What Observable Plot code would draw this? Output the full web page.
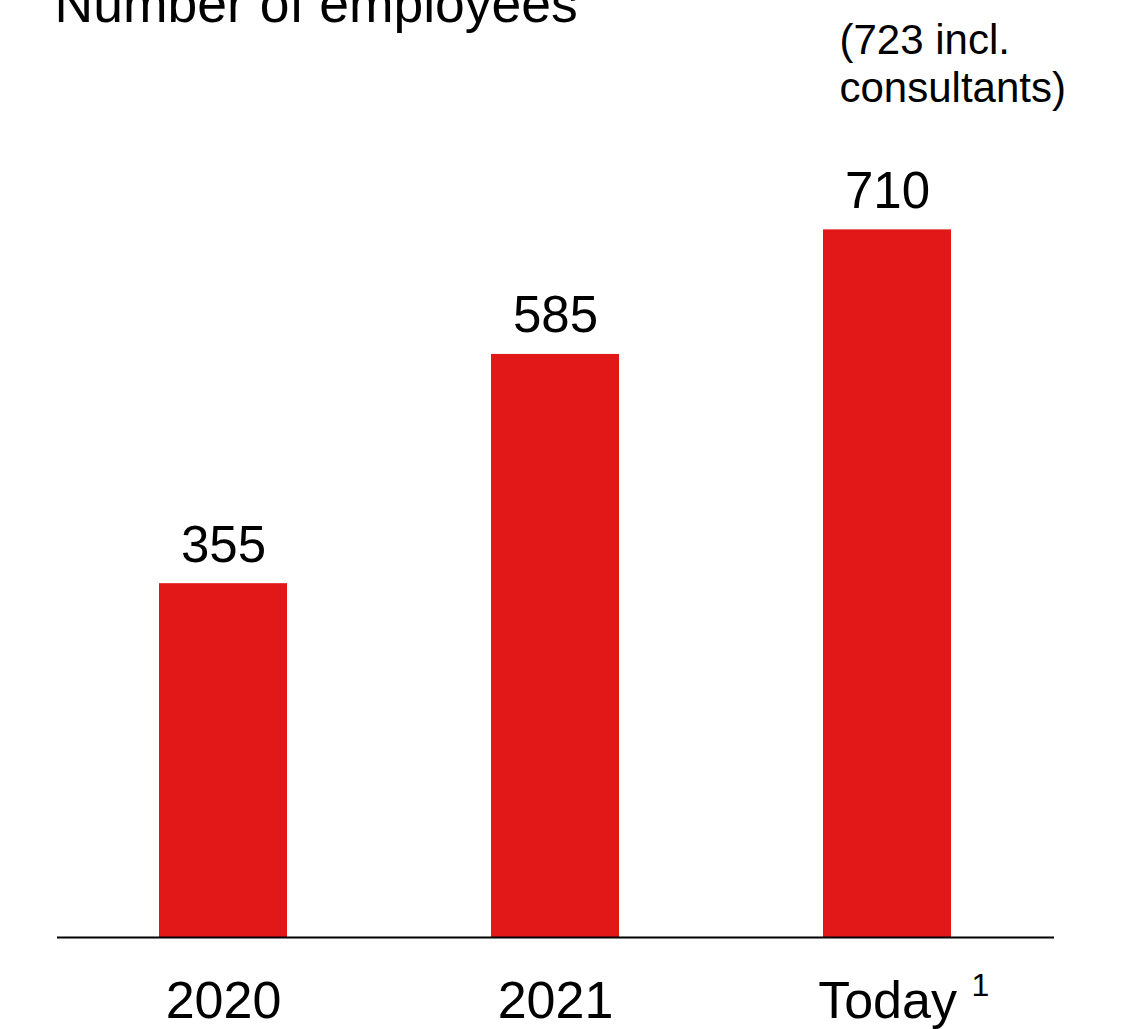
<!DOCTYPE html>
<html>
<head>
<meta charset="utf-8">
<script src="https://cdn.jsdelivr.net/npm/d3@7"></script>
<script src="https://cdn.jsdelivr.net/npm/@observablehq/plot@0.6"></script>
<style>
  html, body { margin: 0; padding: 0; background: #fff; }
  svg { display: block; }
</style>
</head>
<body>
<div id="chart"></div>
<script>
const categories = ["2020", "2021", "Today"];
const employees = [355, 585, 710];
const titleText = "Number of employees";
const noteText = "(723 incl.\nconsultants)";
const footnoteMark = "1";

const data = categories.map((c, i) => ({ period: c, value: employees[i] }));
const font = "'Liberation Sans', Arial, Helvetica, sans-serif";
const red = "#e21718";

const chart = Plot.plot({
  width: 1127,
  height: 1029,
  marginLeft: 57,
  marginRight: 73,
  marginTop: 40,
  marginBottom: 92,
  style: { fontFamily: font, color: "#000", background: "#fff" },
  x: { domain: categories, paddingInner: 0.614, paddingOuter: 0.3085, align: 0.5, axis: null },
  y: { domain: [0, 900], axis: null },
  marks: [
    Plot.barY(data, { x: "period", y: "value", fill: red }),
    Plot.ruleY([0], { stroke: "#000", strokeWidth: 2 }),
    Plot.axisX({ tickSize: 0, tickPadding: 44, fontSize: 52, fill: "#000", fontFamily: font, label: null }),
    Plot.text(data, { x: "period", y: "value", text: d => String(d.value), dy: -22, lineAnchor: "bottom", fontSize: 51, fill: "#000" }),
    Plot.text([{ period: "Today", value: 710, note: noteText }], { x: "period", y: "value", text: "note", textAnchor: "start", dx: -48, dy: -128, lineAnchor: "bottom", lineHeight: 1.13, fontSize: 42, fill: "#000" }),
    Plot.text([{ period: "Today", mark: footnoteMark }], { x: "period", text: "mark", frameAnchor: "bottom", textAnchor: "start", dx: 84, dy: 58, lineAnchor: "bottom", fontSize: 32, fill: "#000" }),
    Plot.text([titleText], { frameAnchor: "top-left", textAnchor: "start", lineAnchor: "bottom", dx: -3, dy: -19, fontSize: 53.5, fill: "#000" })
  ]
});
document.getElementById("chart").appendChild(chart);
</script>
</body>
</html>
